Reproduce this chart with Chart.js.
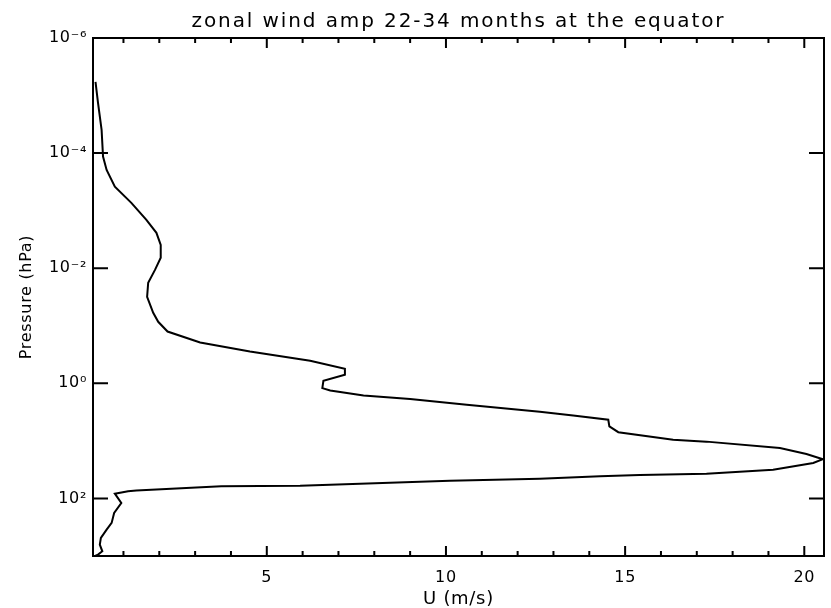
<!DOCTYPE html>
<html>
<head>
<meta charset="utf-8">
<script src="https://cdn.jsdelivr.net/npm/chart.js@4.4.1/dist/chart.umd.min.js"></script>
<style>
  html, body { margin: 0; padding: 0; background: #fff; }
  #wrap { width: 831px; height: 608px; position: relative; }
</style>
</head>
<body>
<div id="wrap"><canvas id="qbo-chart"></canvas></div>
<script>
// zonal wind amplitude (m/s), top of atmosphere downwards
const windSpeed = [
  0.22, 0.29, 0.39, 0.43, 0.53, 0.76, 1.22, 1.64, 1.92, 2.04,
  2.04, 1.88, 1.69, 1.66, 1.83, 1.97, 2.23, 3.14, 4.53, 6.21,
  7.18, 7.18, 6.58, 6.55, 6.77, 7.70, 9.00, 10.58, 12.62, 13.55,
  14.53, 14.56, 14.81, 16.34, 17.27, 19.32, 20.06, 20.52, 20.25, 19.13,
  17.27, 15.41, 14.30, 12.62, 10.11, 5.93, 3.73, 1.36, 1.13, 0.76,
  0.94, 0.74, 0.67, 0.53, 0.37, 0.34, 0.41, 0.29, 0.21
];
// pressure level (hPa) for each point above
const pressure = [
  5.8e-6, 1.34e-5, 3.95e-5, 1.15e-4, 1.96e-4, 3.82e-4, 7.33e-4, 1.45e-3, 2.43e-3, 3.93e-3,
  6.59e-3, 1.07e-2, 1.79e-2, 3.14e-2, 5.94e-2, 8.53e-2, 0.126, 0.195, 0.279, 0.406,
  0.558, 0.710, 0.902, 1.21, 1.33, 1.62, 1.87, 2.36, 3.11, 3.61,
  4.29, 5.60, 7.06, 9.53, 10.3, 13.3, 16.9, 20.8, 24.2, 31.6,
  37.1, 39.1, 41.0, 45.3, 49.1, 60.0, 61.7, 72.9, 75.3, 82.6,
  120, 179, 266, 348, 485, 634, 828, 946, 1000
];

const xTickValues = [5, 10, 15, 20];
const xMinorTicks = [1, 2, 3, 4, 6, 7, 8, 9, 11, 12, 13, 14, 16, 17, 18, 19];
const yTickValues = [1e-6, 1e-4, 1e-2, 1, 100];
const yTickLabels = ["10⁻⁶", "10⁻⁴", "10⁻²", "10⁰", "10²"];

(function () {
  const FONT = "'DejaVu Sans', sans-serif";
  const INK = "#000";

  // IDL-style box: frame plus inward ticks on all four sides
  const idlFrame = {
    id: "idlFrame",
    beforeDraw(chart) { chart.ctx.letterSpacing = "1.9px"; },
    beforeDatasetsDraw(chart) { chart.ctx.letterSpacing = "0.7px"; },
    afterDraw(chart) {
      const { ctx, chartArea: a, scales } = chart;
      ctx.save();
      ctx.letterSpacing = "0px";
      ctx.strokeStyle = INK;
      ctx.lineWidth = 2;
      ctx.strokeRect(a.left, a.top, a.right - a.left, a.bottom - a.top);
      ctx.beginPath();
      const seg = (x1, y1, x2, y2) => { ctx.moveTo(x1, y1); ctx.lineTo(x2, y2); };
      for (const v of xTickValues) {
        const px = scales.x.getPixelForValue(v);
        seg(px, a.bottom, px, a.bottom - 10);
        seg(px, a.top, px, a.top + 10);
      }
      for (const v of xMinorTicks) {
        const px = scales.x.getPixelForValue(v);
        seg(px, a.bottom, px, a.bottom - 5);
        seg(px, a.top, px, a.top + 5);
      }
      for (const v of yTickValues) {
        const py = scales.y.getPixelForValue(v);
        seg(a.left, py, a.left + 15, py);
        seg(a.right, py, a.right - 15, py);
      }
      ctx.stroke();
      ctx.restore();
    },
  };

  const ctx = document.getElementById("qbo-chart");
  new Chart(ctx, {
    type: "scatter",
    data: {
      datasets: [{
        data: windSpeed.map((u, i) => ({ x: u, y: pressure[i] })),
        showLine: true,
        borderColor: INK,
        borderWidth: 2,
        pointRadius: 0,
        tension: 0,
        fill: false,
      }],
    },
    options: {
      responsive: true,
      maintainAspectRatio: false,
      animation: false,
      layout: { padding: { left: 0, right: 7, top: 0, bottom: 0 } },
      plugins: {
        legend: { display: false },
        tooltip: { enabled: false },
        title: {
          display: true,
          fullSize: false,
          text: "zonal wind amp 22-34 months at the equator",
          color: INK,
          font: { family: FONT, size: 20, weight: "normal", lineHeight: 1.2 },
          padding: { top: 10, bottom: 4 },
        },
      },
      scales: {
        x: {
          type: "linear",
          min: 0.15,
          max: 20.55,
          afterBuildTicks: (s) => { s.ticks = xTickValues.map((v) => ({ value: v })); },
          afterFit: (s) => { s.height = 52; },
          grid: { display: false, drawTicks: false, z: 1 },
          border: { display: false, z: 1 },
          ticks: {
            z: 1,
            color: INK,
            padding: 12,
            maxRotation: 0,
            autoSkip: false,
            font: { family: FONT, size: 16 },
            callback: (v) => String(v),
          },
          title: {
            display: true,
            text: "U (m/s)",
            color: INK,
            font: { family: FONT, size: 18, lineHeight: 1 },
            padding: 0,
          },
        },
        y: {
          type: "logarithmic",
          reverse: true,
          min: 1e-6,
          max: 1000,
          afterBuildTicks: (s) => { s.ticks = yTickValues.map((v) => ({ value: v })); },
          afterFit: (s) => { s.width = 93; },
          grid: { display: false, drawTicks: false, z: 1 },
          border: { display: false, z: 1 },
          ticks: {
            z: 1,
            color: INK,
            padding: 6,
            autoSkip: false,
            font: { family: FONT, size: 16 },
            callback: (v) => {
              const i = yTickValues.indexOf(v);
              return i >= 0 ? yTickLabels[i] : "";
            },
          },
          title: {
            display: true,
            text: "Pressure (hPa)",
            color: INK,
            font: { family: FONT, size: 16, lineHeight: 1.2 },
            padding: { top: 17, bottom: 0 },
          },
        },
      },
    },
    plugins: [idlFrame],
  });
})();
</script>
</body>
</html>
